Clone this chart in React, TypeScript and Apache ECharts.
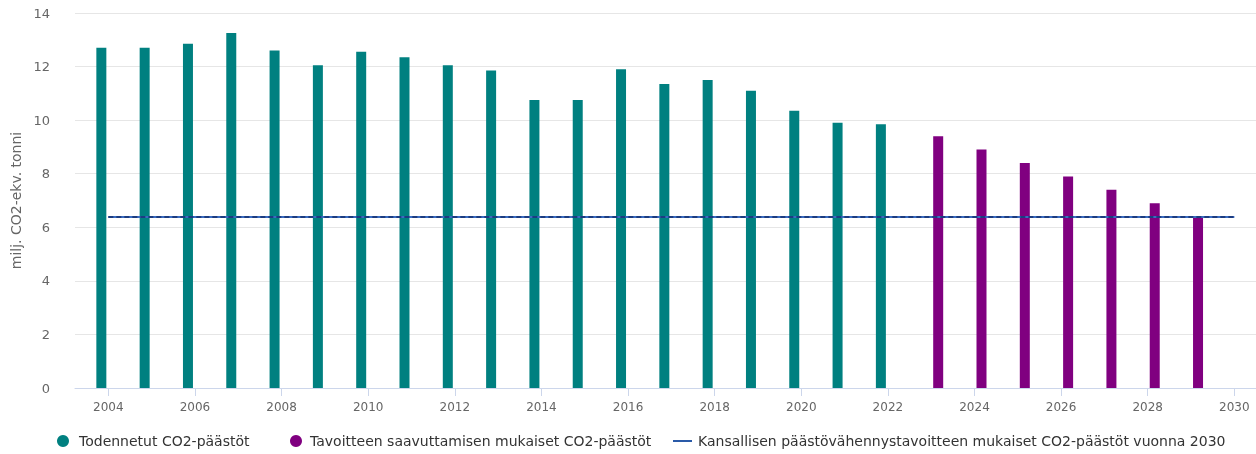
import React, { useEffect, useRef } from "react";
import * as echarts from "echarts";

const actualYears = [2004, 2005, 2006, 2007, 2008, 2009, 2010, 2011, 2012, 2013, 2014, 2015, 2016, 2017, 2018, 2019, 2020, 2021, 2022];
const actualValues = [12.7, 12.7, 12.85, 13.25, 12.6, 12.05, 12.55, 12.35, 12.05, 11.85, 10.75, 10.75, 11.9, 11.35, 11.5, 11.1, 10.35, 9.9, 9.85];
const targetYears = [2023, 2024, 2025, 2026, 2027, 2028, 2029];
const targetValues = [9.4, 8.9, 8.4, 7.9, 7.4, 6.9, 6.4];
const goalYears = [2004, 2030];
const goalValue = 6.38;
const xTickYears = [2004, 2006, 2008, 2010, 2012, 2014, 2016, 2018, 2020, 2022, 2024, 2026, 2028, 2030];

const nameActual = "Todennetut CO2-päästöt";
const nameTarget = "Tavoitteen saavuttamisen mukaiset CO2-päästöt";
const nameGoal = "Kansallisen päästövähennystavoitteen mukaiset CO2-päästöt vuonna 2030";

export default function App() {
  const ref = useRef<HTMLDivElement>(null);
  useEffect(() => {
    if (!ref.current) return;
    const chart = echarts.init(ref.current, undefined, { renderer: "svg" });
    const font = "DejaVu Sans";
    const legendText = { color: "#333", fontSize: 14, fontFamily: font };
    chart.setOption({
      animation: false,
      textStyle: { fontFamily: font },
      grid: { left: 75, right: 0, top: 13, bottom: 66, containLabel: false },
      legend: [
        {
          data: [{ name: nameActual, icon: "circle" }],
          left: 52, top: 429, itemWidth: 12, itemHeight: 12,
          textStyle: { ...legendText, padding: [0, 0, 0, 5] },
        },
        {
          data: [{ name: nameTarget, icon: "circle" }],
          left: 285, top: 429, itemWidth: 12, itemHeight: 12,
          textStyle: { ...legendText, padding: [0, 0, 0, 3] },
        },
        {
          data: [{ name: nameGoal, icon: "rect" }],
          left: 668, top: 429, itemWidth: 19, itemHeight: 2,
          textStyle: { ...legendText, padding: [0, 0, 0, 1] },
        },
      ],
      xAxis: {
        type: "value",
        min: 2003.23,
        max: 2030.5,
        axisLine: { show: true, lineStyle: { color: "#ccd6eb" } },
        axisTick: { show: true, length: 8, lineStyle: { color: "#ccd6eb" }, customValues: xTickYears },
        axisLabel: { color: "#666", fontSize: 12, margin: 13, customValues: xTickYears, formatter: (v: number) => String(v) },
        splitLine: { show: false },
      },
      yAxis: {
        type: "value",
        min: 0,
        max: 14,
        interval: 2,
        name: "milj. CO2-ekv. tonni",
        nameLocation: "middle",
        nameGap: 38,
        nameTextStyle: { color: "#666", fontSize: 14 },
        axisLine: { show: false },
        axisTick: { show: false },
        axisLabel: { color: "#666", fontSize: 13, margin: 25 },
        splitLine: { lineStyle: { color: "#e6e6e6" } },
      },
      series: [
        {
          name: nameActual,
          type: "bar",
          barWidth: 10,
          barGap: "40%",
          itemStyle: { color: "#008080" },
          data: actualYears.map((y, i) => [y, actualValues[i]]),
        },
        {
          name: nameTarget,
          type: "bar",
          barWidth: 10,
          barGap: "40%",
          itemStyle: { color: "#800080" },
          data: targetYears.map((y, i) => [y, targetValues[i]]),
        },
        {
          name: nameGoal,
          type: "line",
          symbol: "none",
          z: 5,
          itemStyle: { color: "#2a5aa8" },
          lineStyle: { color: "#3a6cc0", width: 2 },
          data: goalYears.map((y) => [y, goalValue]),
        },
        {
          name: "goal-dash",
          type: "line",
          symbol: "none",
          z: 6,
          lineStyle: { color: "#1c3c80", width: 2, type: [5, 3] },
          data: goalYears.map((y) => [y, goalValue]),
        },
      ],
    });
    return () => chart.dispose();
  }, []);
  return <div ref={ref} style={{ position: "fixed", left: 0, top: 0, width: 1256, height: 454 }} />;
}
